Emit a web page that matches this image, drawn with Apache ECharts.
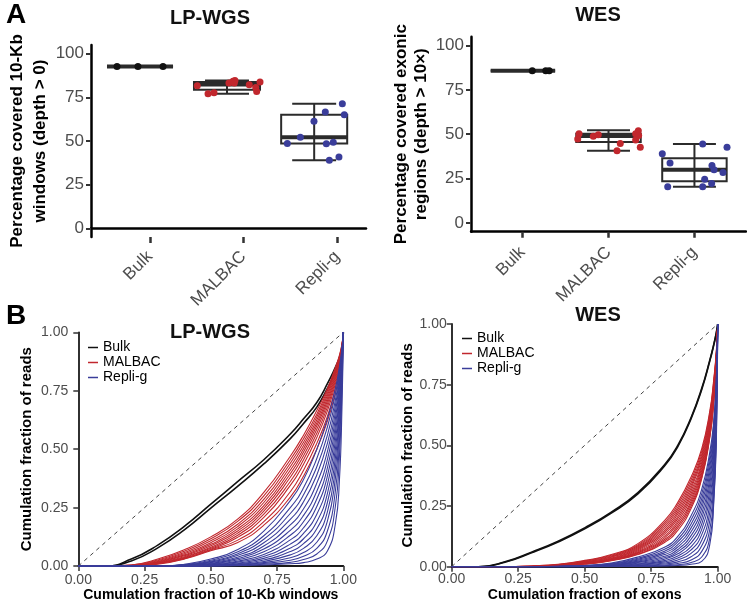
<!DOCTYPE html>
<html>
<head>
<meta charset="utf-8">
<title>Coverage and Lorenz curves</title>
<script src="https://cdn.jsdelivr.net/npm/echarts@6/dist/echarts.min.js"></script>
<style>
    html, body { margin: 0; padding: 0; background: #fff; }
    #main { width: 747px; height: 603px; }
</style>
</head>
<body>
<div id="main"></div>
<script type="text/javascript">
    var categories = ['Bulk', 'MALBAC', 'Repli-g'];

    // panel A, LP-WGS : [min, q1, median, q3, max]
    var lpBoxX = [0.894, 1.824, 2.756];
    var lpBoxStats = [
        [92.7, 92.7, 92.7, 92.7, 92.7],
        [77.1, 79.4, 82.3, 83.8, 84.7],
        [38.9, 48.6, 52.1, 65.1, 71.4]
    ];
    var lpBulkPts = [[0.648, 92.7], [0.872, 92.7], [1.14, 92.7]];
    var lpMalbacPts = [[1.506, 81.7], [1.621, 77.1], [1.685, 77.7], [1.845, 83.2], [1.888, 84.2], [1.909, 84.7],
        [1.902, 83.3], [2.062, 82.2], [2.131, 80.6], [2.141, 78.3], [2.177, 83.8]];
    var lpRepliPts = [[3.057, 71.4], [2.875, 66.6], [3.078, 65.1], [2.754, 61.3], [2.608, 52.2], [2.469, 48.6],
        [2.886, 48.4], [2.96, 49.3], [3.021, 40.9], [2.918, 38.9]];

    // panel A, WES
    var wesBoxX = [1.004, 2.0, 3.0];
    var wesBoxStats = [
        [85.8, 85.8, 85.8, 85.8, 85.8],
        [40.7, 45.6, 49.0, 50.3, 52.2],
        [20.3, 23.5, 30.0, 36.4, 44.5]
    ];
    var wesBulkPts = [[1.113, 85.8], [1.27, 85.8], [1.31, 85.8]];
    var wesMalbacPts = [[1.657, 50.3], [1.642, 47.3], [1.823, 48.8], [1.881, 49.7], [2.137, 44.8], [2.099, 40.7],
        [2.347, 52.0], [2.316, 50.3], [2.351, 49.2], [2.316, 46.7], [2.37, 42.6]];
    var wesRepliPts = [[3.096, 44.5], [3.379, 42.6], [2.626, 39.0], [2.716, 33.8], [3.204, 32.3], [3.228, 30.0],
        [3.332, 28.4], [3.119, 24.6], [3.2, 22.2], [2.689, 20.3], [3.096, 20.3]];

    // panel B, Lorenz curves (cumulative fraction of reads at lorenzX)
    var lorenzX = [0, 0.1, 0.2, 0.3, 0.4, 0.5, 0.6, 0.7, 0.8, 0.85, 0.9, 0.94, 0.97, 0.985, 0.995, 1];

    var lpBulkCurves = [
        [0, 0, 0.030, 0.090, 0.170, 0.265, 0.360, 0.455, 0.565, 0.630, 0.700, 0.780, 0.850, 0.890, 0.930, 1],
        [0, 0, 0.022, 0.078, 0.155, 0.248, 0.340, 0.437, 0.545, 0.610, 0.680, 0.760, 0.830, 0.875, 0.920, 1]
    ];
    var lpMalbacCurves = [
        [0, 0, 0.005, 0.030, 0.070, 0.125, 0.200, 0.315, 0.470, 0.560, 0.665, 0.760, 0.850, 0.900, 0.950, 1],
        [0, 0, 0.004, 0.026, 0.064, 0.117, 0.190, 0.300, 0.455, 0.545, 0.650, 0.750, 0.843, 0.895, 0.947, 1],
        [0, 0, 0.003, 0.023, 0.058, 0.108, 0.178, 0.285, 0.440, 0.530, 0.638, 0.740, 0.836, 0.890, 0.944, 1],
        [0, 0, 0.002, 0.020, 0.053, 0.100, 0.168, 0.272, 0.425, 0.516, 0.625, 0.730, 0.828, 0.884, 0.941, 1],
        [0, 0, 0.001, 0.018, 0.048, 0.093, 0.158, 0.259, 0.410, 0.502, 0.612, 0.718, 0.820, 0.878, 0.938, 1],
        [0, 0, 0, 0.016, 0.044, 0.087, 0.149, 0.247, 0.395, 0.488, 0.600, 0.706, 0.812, 0.872, 0.934, 1],
        [0, 0, 0, 0.014, 0.040, 0.081, 0.140, 0.235, 0.380, 0.472, 0.585, 0.694, 0.802, 0.865, 0.930, 1],
        [0, 0, 0, 0.012, 0.037, 0.076, 0.131, 0.222, 0.362, 0.455, 0.568, 0.680, 0.792, 0.858, 0.926, 1],
        [0, 0, 0, 0.011, 0.034, 0.072, 0.122, 0.208, 0.345, 0.436, 0.550, 0.664, 0.780, 0.850, 0.921, 1],
        [0, 0, 0, 0.010, 0.032, 0.069, 0.110, 0.190, 0.318, 0.410, 0.525, 0.640, 0.762, 0.840, 0.916, 1],
        [0, 0, 0, 0.008, 0.030, 0.066, 0.100, 0.175, 0.295, 0.385, 0.500, 0.620, 0.740, 0.830, 0.910, 1]
    ];
    var lpRepliCurves = [
        [0, 0, 0, 0, 0.008, 0.030, 0.070, 0.150, 0.280, 0.370, 0.500, 0.630, 0.760, 0.850, 0.930, 1],
        [0, 0, 0, 0, 0.006, 0.025, 0.060, 0.130, 0.250, 0.335, 0.460, 0.595, 0.735, 0.835, 0.925, 1],
        [0, 0, 0, 0, 0.005, 0.021, 0.052, 0.115, 0.225, 0.305, 0.425, 0.560, 0.710, 0.820, 0.920, 1],
        [0, 0, 0, 0, 0.004, 0.018, 0.045, 0.100, 0.200, 0.275, 0.390, 0.525, 0.685, 0.805, 0.915, 1],
        [0, 0, 0, 0, 0.003, 0.015, 0.038, 0.086, 0.176, 0.245, 0.355, 0.490, 0.658, 0.790, 0.910, 1],
        [0, 0, 0, 0, 0.002, 0.012, 0.032, 0.073, 0.153, 0.217, 0.320, 0.455, 0.630, 0.772, 0.905, 1],
        [0, 0, 0, 0, 0.002, 0.010, 0.026, 0.061, 0.132, 0.190, 0.287, 0.420, 0.600, 0.752, 0.898, 1],
        [0, 0, 0, 0, 0.001, 0.008, 0.021, 0.050, 0.112, 0.164, 0.255, 0.385, 0.570, 0.730, 0.890, 1],
        [0, 0, 0, 0, 0.001, 0.006, 0.017, 0.041, 0.094, 0.140, 0.222, 0.348, 0.536, 0.705, 0.880, 1],
        [0, 0, 0, 0, 0, 0.005, 0.013, 0.033, 0.077, 0.117, 0.190, 0.310, 0.500, 0.678, 0.870, 1],
        [0, 0, 0, 0, 0, 0.004, 0.010, 0.026, 0.062, 0.096, 0.160, 0.272, 0.462, 0.650, 0.858, 1],
        [0, 0, 0, 0, 0, 0.003, 0.008, 0.020, 0.048, 0.076, 0.130, 0.232, 0.420, 0.615, 0.842, 1],
        [0, 0, 0, 0, 0, 0.002, 0.006, 0.015, 0.036, 0.058, 0.102, 0.192, 0.375, 0.575, 0.822, 1],
        [0, 0, 0, 0, 0, 0.001, 0.004, 0.011, 0.025, 0.042, 0.076, 0.150, 0.320, 0.525, 0.795, 1],
        [0, 0, 0, 0, 0, 0.001, 0.003, 0.008, 0.016, 0.028, 0.052, 0.108, 0.255, 0.460, 0.755, 1],
        [0, 0, 0, 0, 0, 0, 0.002, 0.005, 0.010, 0.015, 0.030, 0.065, 0.180, 0.360, 0.680, 1]
    ];

    var wesBulkCurves = [
        [0, 0, 0.020, 0.060, 0.105, 0.160, 0.225, 0.305, 0.420, 0.500, 0.615, 0.735, 0.850, 0.915, 0.965, 1],
        [0, 0, 0.018, 0.057, 0.102, 0.156, 0.221, 0.300, 0.415, 0.495, 0.610, 0.730, 0.846, 0.912, 0.963, 1]
    ];
    var wesMalbacCurves = [
        [0, 0, 0, 0.003, 0.010, 0.026, 0.050, 0.095, 0.190, 0.265, 0.370, 0.486, 0.640, 0.770, 0.890, 1],
        [0, 0, 0, 0.003, 0.009, 0.024, 0.047, 0.090, 0.182, 0.255, 0.358, 0.475, 0.630, 0.762, 0.886, 1],
        [0, 0, 0, 0.002, 0.008, 0.022, 0.044, 0.086, 0.174, 0.245, 0.346, 0.463, 0.620, 0.754, 0.882, 1],
        [0, 0, 0, 0.002, 0.007, 0.020, 0.041, 0.082, 0.166, 0.236, 0.335, 0.452, 0.610, 0.746, 0.878, 1],
        [0, 0, 0, 0.002, 0.007, 0.019, 0.039, 0.078, 0.158, 0.226, 0.324, 0.441, 0.600, 0.738, 0.874, 1],
        [0, 0, 0, 0.001, 0.006, 0.017, 0.036, 0.074, 0.150, 0.217, 0.313, 0.430, 0.590, 0.730, 0.870, 1],
        [0, 0, 0, 0.001, 0.006, 0.016, 0.034, 0.070, 0.142, 0.207, 0.302, 0.419, 0.580, 0.722, 0.866, 1],
        [0, 0, 0, 0.001, 0.005, 0.015, 0.032, 0.066, 0.134, 0.198, 0.291, 0.408, 0.570, 0.714, 0.862, 1],
        [0, 0, 0, 0.001, 0.005, 0.014, 0.030, 0.062, 0.126, 0.188, 0.280, 0.397, 0.560, 0.706, 0.858, 1],
        [0, 0, 0, 0, 0.004, 0.013, 0.029, 0.058, 0.119, 0.179, 0.270, 0.386, 0.550, 0.698, 0.854, 1],
        [0, 0, 0, 0, 0.004, 0.012, 0.027, 0.055, 0.112, 0.169, 0.260, 0.375, 0.540, 0.690, 0.850, 1],
        [0, 0, 0, 0, 0.003, 0.011, 0.026, 0.052, 0.106, 0.160, 0.250, 0.368, 0.535, 0.680, 0.845, 1],
        [0, 0, 0, 0, 0.003, 0.010, 0.025, 0.050, 0.100, 0.150, 0.240, 0.363, 0.530, 0.670, 0.840, 1]
    ];
    var wesRepliCurves = [
        [0, 0, 0, 0, 0.002, 0.005, 0.015, 0.040, 0.080, 0.125, 0.210, 0.320, 0.470, 0.600, 0.780, 1],
        [0, 0, 0, 0, 0.002, 0.004, 0.013, 0.035, 0.072, 0.113, 0.193, 0.300, 0.450, 0.585, 0.770, 1],
        [0, 0, 0, 0, 0.001, 0.004, 0.011, 0.031, 0.064, 0.102, 0.176, 0.280, 0.430, 0.568, 0.760, 1],
        [0, 0, 0, 0, 0.001, 0.003, 0.010, 0.027, 0.057, 0.091, 0.160, 0.260, 0.408, 0.550, 0.748, 1],
        [0, 0, 0, 0, 0.001, 0.003, 0.008, 0.023, 0.050, 0.081, 0.144, 0.240, 0.386, 0.530, 0.735, 1],
        [0, 0, 0, 0, 0.001, 0.002, 0.007, 0.020, 0.043, 0.071, 0.128, 0.219, 0.362, 0.508, 0.720, 1],
        [0, 0, 0, 0, 0, 0.002, 0.006, 0.017, 0.037, 0.062, 0.113, 0.198, 0.338, 0.485, 0.705, 1],
        [0, 0, 0, 0, 0, 0.001, 0.005, 0.014, 0.031, 0.053, 0.098, 0.176, 0.312, 0.460, 0.688, 1],
        [0, 0, 0, 0, 0, 0.001, 0.004, 0.011, 0.025, 0.044, 0.083, 0.154, 0.284, 0.432, 0.670, 1],
        [0, 0, 0, 0, 0, 0.001, 0.003, 0.009, 0.020, 0.036, 0.069, 0.132, 0.254, 0.402, 0.650, 1],
        [0, 0, 0, 0, 0, 0, 0.002, 0.007, 0.015, 0.028, 0.055, 0.109, 0.222, 0.370, 0.628, 1],
        [0, 0, 0, 0, 0, 0, 0.002, 0.005, 0.011, 0.020, 0.041, 0.086, 0.188, 0.335, 0.602, 1],
        [0, 0, 0, 0, 0, 0, 0.001, 0.003, 0.007, 0.013, 0.028, 0.063, 0.152, 0.300, 0.575, 1],
        [0, 0, 0, 0, 0, 0, 0.001, 0.002, 0.004, 0.008, 0.017, 0.040, 0.118, 0.275, 0.548, 1],
        [0, 0, 0, 0, 0, 0, 0, 0.001, 0.003, 0.005, 0.010, 0.022, 0.090, 0.260, 0.520, 1]
    ];

    var FONT = '"Liberation Sans", Arial, sans-serif';
    var COLORS = { 'Bulk': '#111111', 'MALBAC': '#c1272d', 'Repli-g': '#3a3d9a' };

    var series = [];

    function addBoxPanel(xi, yi, boxX, stats, groups, boxW, capW) {
        series.push({
            type: 'custom',
            xAxisIndex: xi,
            yAxisIndex: yi,
            z: 2,
            silent: true,
            data: boxX.map(function (x, i) { return [x].concat(stats[i]); }),
            renderItem: function (params, api) {
                var x = api.value(0);
                var lo = api.coord([x, api.value(1)]);
                var q1 = api.coord([x, api.value(2)]);
                var md = api.coord([x, api.value(3)]);
                var q3 = api.coord([x, api.value(4)]);
                var hi = api.coord([x, api.value(5)]);
                var bw = api.size([boxW, 0])[0];
                var cw = api.size([capW, 0])[0];
                var cx = lo[0];
                var st = { stroke: '#2b2b2b', lineWidth: 2, fill: 'none' };
                return {
                    type: 'group',
                    children: [
                        { type: 'line', shape: { x1: cx, y1: lo[1], x2: cx, y2: hi[1] }, style: st },
                        { type: 'line', shape: { x1: cx - cw / 2, y1: lo[1], x2: cx + cw / 2, y2: lo[1] }, style: st },
                        { type: 'line', shape: { x1: cx - cw / 2, y1: hi[1], x2: cx + cw / 2, y2: hi[1] }, style: st },
                        { type: 'rect', shape: { x: cx - bw / 2, y: q3[1], width: bw, height: q1[1] - q3[1] }, style: st },
                        { type: 'line', shape: { x1: cx - bw / 2, y1: md[1], x2: cx + bw / 2, y2: md[1] },
                          style: { stroke: '#2b2b2b', lineWidth: 4 } }
                    ]
                };
            }
        });
        groups.forEach(function (pts, i) {
            series.push({
                type: 'scatter',
                xAxisIndex: xi,
                yAxisIndex: yi,
                z: 3,
                silent: true,
                symbolSize: 7,
                itemStyle: { color: COLORS[categories[i]], opacity: 1 },
                data: pts
            });
        });
    }

    addBoxPanel(0, 0, lpBoxX, lpBoxStats, [lpBulkPts, lpMalbacPts, lpRepliPts], 0.706, 0.47);
    addBoxPanel(2, 1, wesBoxX, wesBoxStats, [wesBulkPts, wesMalbacPts, wesRepliPts], 0.75, 0.5);

    function addLorenzPanel(xi, yi, groups) {
        series.push({
            type: 'line',
            xAxisIndex: xi,
            yAxisIndex: yi,
            silent: true,
            showSymbol: false,
            data: [[0, 0], [1, 1]],
            lineStyle: { color: '#444', width: 1, type: [4, 4] }
        });
        groups.forEach(function (curves, g) {
            var name = categories[g];
            curves.forEach(function (ys) {
                series.push({
                    type: 'line',
                    name: name,
                    xAxisIndex: xi,
                    yAxisIndex: yi,
                    silent: true,
                    showSymbol: false,
                    smooth: 0.5,
                    data: lorenzX.map(function (x, i) { return [x, ys[i]]; }),
                    itemStyle: { color: COLORS[name] },
                    lineStyle: { color: COLORS[name], width: g === 0 ? 1.6 : 1.1 }
                });
            });
        });
    }

    addLorenzPanel(3, 2, [lpBulkCurves, lpMalbacCurves, lpRepliCurves]);
    addLorenzPanel(4, 3, [wesBulkCurves, wesMalbacCurves, wesRepliCurves]);

    var boxTickVals = [0, 25, 50, 75, 100];

    function boxYAxis(grid, name, lineH, gap) {
        return {
            type: 'value', gridIndex: grid, min: -5, max: 105,
            splitLine: { show: false },
            axisLine: { show: true, onZero: false, lineStyle: { color: '#000', width: 2.5 } },
            axisTick: { show: true, length: 5, customValues: boxTickVals, lineStyle: { color: '#333', width: 2 } },
            axisLabel: { customValues: boxTickVals, color: '#4d4d4d', fontSize: 17, fontFamily: FONT, margin: 7 },
            name: name, nameLocation: 'middle', nameGap: gap,
            nameTextStyle: { color: '#000', fontWeight: 'bold', fontSize: 17, fontFamily: FONT, lineHeight: lineH }
        };
    }

    function catLabel(v) { return categories[Math.round(v) - 1]; }

    function lorenzAxis(grid, name, gap, margin, isY) {
        return {
            type: 'value', gridIndex: grid, min: 0, max: 1, interval: 0.25,
            splitLine: { show: false },
            axisLine: { show: true, lineStyle: { color: '#1a1a1a', width: 1.8 } },
            axisTick: { show: true, length: 5, lineStyle: { color: '#333', width: 1.5 } },
            axisLabel: { color: '#4d4d4d', fontSize: 14, fontFamily: FONT, margin: margin,
                formatter: function (v) { return v.toFixed(2); } },
            name: name, nameLocation: 'middle', nameGap: gap,
            nameTextStyle: { color: '#000', fontWeight: 'bold', fontSize: isY ? 15 : 14, fontFamily: FONT }
        };
    }

    var option = {
        animation: false,
        backgroundColor: '#fff',
        textStyle: { fontFamily: FONT },
        grid: [
            { left: 91, top: 45, width: 275, height: 192 },
            { left: 471, top: 36.7, width: 275, height: 195 },
            { left: 78.3, top: 332.3, width: 265, height: 235.4 },
            { left: 451.7, top: 324, width: 266, height: 242.7 }
        ],
        xAxis: [
            {
                type: 'value', gridIndex: 0, min: 0.37, max: 3.31,
                splitLine: { show: false },
                axisLine: { show: false, onZero: false },
                axisTick: { show: true, length: 6, customValues: [1, 2, 3], lineStyle: { color: '#333', width: 2.5 } },
                axisLabel: { customValues: [1, 2, 3], rotate: 45, color: '#4d4d4d', fontSize: 17, fontFamily: FONT,
                    margin: 17, formatter: catLabel }
            },
            {
                type: 'value', gridIndex: 0, min: 0.37, max: 3.31,
                splitLine: { show: false },
                axisLine: { show: true, onZero: true, lineStyle: { color: '#000', width: 2.5 } },
                axisTick: { show: false },
                axisLabel: { show: false }
            },
            {
                type: 'value', gridIndex: 1, min: 0.4, max: 3.6,
                splitLine: { show: false },
                axisLine: { show: true, onZero: false, lineStyle: { color: '#000', width: 2.5 } },
                axisTick: { show: true, length: 6, customValues: [1, 2, 3], lineStyle: { color: '#333', width: 2.5 } },
                axisLabel: { customValues: [1, 2, 3], rotate: 45, color: '#4d4d4d', fontSize: 17, fontFamily: FONT,
                    margin: 18, formatter: catLabel }
            },
            lorenzAxis(2, 'Cumulation fraction of 10-Kb windows', 20, 7, false),
            lorenzAxis(3, 'Cumulation fraction of exons', 21, 5, false)
        ],
        yAxis: [
            boxYAxis(0, 'Percentage covered 10-Kb\nwindows (depth > 0)', 23, 37),
            boxYAxis(1, 'Percentage covered exonic\nregions (depth > 10×)', 20, 39),
            lorenzAxis(2, 'Cumulation fraction of reads', 44, 10, true),
            lorenzAxis(3, 'Cumulation fraction of reads', 31, 5, true)
        ],
        legend: [
            {
                orient: 'vertical', left: 88, top: 340, padding: 0, itemGap: 0,
                itemWidth: 10, itemHeight: 1.5, icon: 'rect', selectedMode: false,
                data: categories,
                textStyle: { color: '#000', fontSize: 14, lineHeight: 15, fontFamily: FONT }
            },
            {
                orient: 'vertical', left: 462, top: 331, padding: 0, itemGap: 0,
                itemWidth: 10, itemHeight: 1.5, icon: 'rect', selectedMode: false,
                data: categories,
                textStyle: { color: '#000', fontSize: 14, lineHeight: 15, fontFamily: FONT }
            }
        ],
        graphic: [
            { type: 'text', x: 16, y: 15, style: { text: 'A', align: 'center', verticalAlign: 'middle', fontSize: 28, fontWeight: 'bold', fontFamily: FONT, fill: '#000' } },
            { type: 'text', x: 16, y: 316, style: { text: 'B', align: 'center', verticalAlign: 'middle', fontSize: 28, fontWeight: 'bold', fontFamily: FONT, fill: '#000' } },
            { type: 'text', x: 210, y: 18, style: { text: 'LP-WGS', align: 'center', verticalAlign: 'middle', fontSize: 20, fontWeight: 'bold', fontFamily: FONT, fill: '#111' } },
            { type: 'text', x: 598, y: 15, style: { text: 'WES', align: 'center', verticalAlign: 'middle', fontSize: 20, fontWeight: 'bold', fontFamily: FONT, fill: '#111' } },
            { type: 'text', x: 210, y: 332, z: 10, style: { text: 'LP-WGS', align: 'center', verticalAlign: 'middle', fontSize: 20, fontWeight: 'bold', fontFamily: FONT, fill: '#111' } },
            { type: 'text', x: 598, y: 315, z: 10, style: { text: 'WES', align: 'center', verticalAlign: 'middle', fontSize: 20, fontWeight: 'bold', fontFamily: FONT, fill: '#111' } }
        ],
        series: series
    };

    var chart = echarts.init(document.getElementById('main'));
    chart.setOption(option);
    window.addEventListener('resize', chart.resize);
</script>
</body>
</html>
